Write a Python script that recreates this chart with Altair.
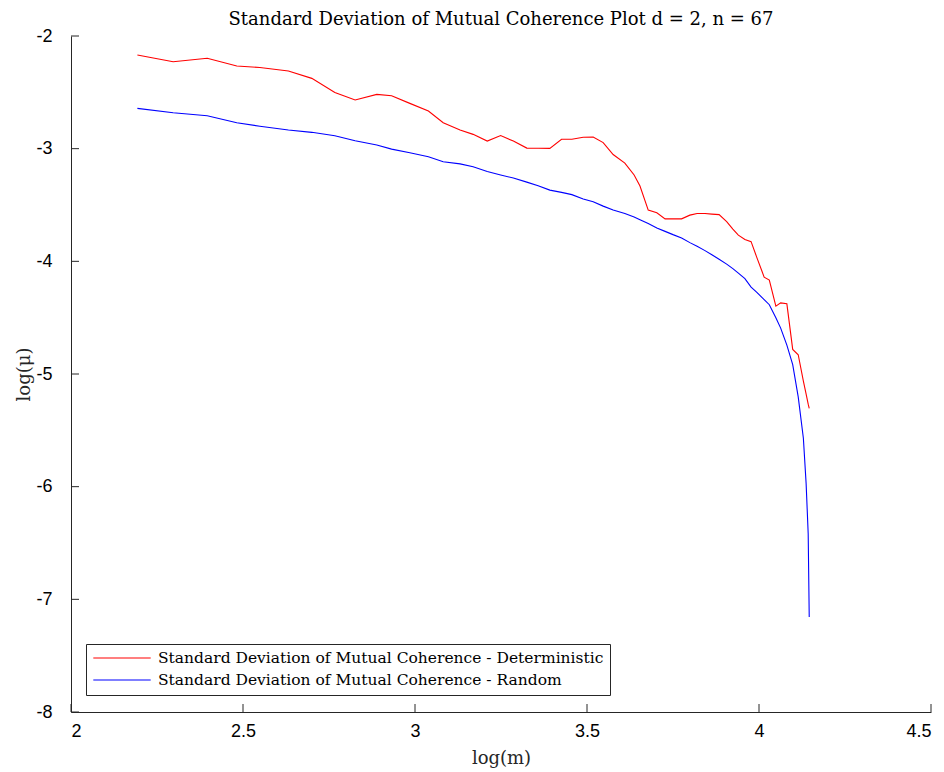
import altair as alt
import pandas as pd

log_m = [2.193, 2.297, 2.396, 2.482, 2.549, 2.632, 2.700, 2.767, 2.826, 2.889,
         2.932, 2.985, 3.039, 3.082, 3.131, 3.169, 3.210, 3.249, 3.286, 3.325,
         3.358, 3.392, 3.426, 3.456, 3.489, 3.518, 3.547, 3.576, 3.610, 3.637,
         3.654, 3.678, 3.703, 3.727, 3.750, 3.775, 3.799, 3.820, 3.843, 3.863,
         3.884, 3.906, 3.924, 3.940, 3.959, 3.977, 3.993, 4.015, 4.030, 4.049,
         4.063, 4.081, 4.098, 4.114, 4.129, 4.137, 4.143, 4.146]

deterministic = [-2.169, -2.228, -2.198, -2.266, -2.280, -2.311, -2.376, -2.502, -2.568, -2.518,
                 -2.530, -2.598, -2.666, -2.770, -2.835, -2.873, -2.933, -2.884, -2.933, -2.995,
                 -2.996, -2.997, -2.917, -2.917, -2.899, -2.897, -2.946, -3.052, -3.128, -3.234,
                 -3.332, -3.545, -3.569, -3.623, -3.623, -3.623, -3.590, -3.575, -3.576, -3.581,
                 -3.585, -3.647, -3.714, -3.767, -3.806, -3.825, -3.960, -4.140, -4.167, -4.398,
                 -4.369, -4.377, -4.782, -4.829, -5.064, -5.179, -5.268, -5.306]

random_ = [-2.642, -2.681, -2.708, -2.770, -2.801, -2.835, -2.855, -2.886, -2.930, -2.968,
           -3.004, -3.036, -3.072, -3.116, -3.135, -3.161, -3.203, -3.234, -3.261, -3.297,
           -3.330, -3.368, -3.388, -3.408, -3.446, -3.472, -3.510, -3.545, -3.576, -3.607,
           -3.630, -3.665, -3.705, -3.734, -3.763, -3.792, -3.834, -3.867, -3.905, -3.941,
           -3.981, -4.025, -4.065, -4.105, -4.154, -4.229, -4.274, -4.340, -4.385, -4.500,
           -4.593, -4.744, -4.917, -5.203, -5.570, -5.973, -6.417, -7.157]

series_names = ["Standard Deviation of Mutual Coherence - Deterministic",
                "Standard Deviation of Mutual Coherence - Random"]
series_colors = ["#ff0000", "#0000ff"]

x_ticks = [2, 2.5, 3, 3.5, 4, 4.5]
y_ticks = [-2, -3, -4, -5, -6, -7, -8]

n = len(log_m)
df = pd.DataFrame({
    "log_m": log_m + log_m,
    "log_mu": deterministic + random_,
    "series": [series_names[0]] * n + [series_names[1]] * n,
})

W, H = 860, 676
axis_color = "#262626"
serif = "DejaVu Serif"
sans = "Liberation Sans"

xscale = alt.Scale(domain=[2, 4.5], nice=False, zero=False)
yscale = alt.Scale(domain=[-8, -2], nice=False, zero=False)

lines = alt.Chart(df).mark_line(strokeWidth=1.1).encode(
    x=alt.X("log_m:Q", scale=xscale,
            axis=alt.Axis(values=x_ticks, title="log(m)", ticks=False, grid=False,
                          labelExpr="'' + datum.value", labelFont=sans, labelFontSize=18,
                          labelColor="black", labelPadding=10, domainColor=axis_color,
                          titleFont=serif, titleFontSize=18, titleFontWeight="normal",
                          titleColor=axis_color, titlePadding=9)),
    y=alt.Y("log_mu:Q", scale=yscale,
            axis=alt.Axis(values=y_ticks, title="log(μ)", ticks=False, grid=False,
                          labelExpr="'' + datum.value", labelFont=sans, labelFontSize=18,
                          labelColor="black", labelPadding=19, domainColor=axis_color,
                          titleFont=serif, titleFontSize=18, titleFontWeight="normal",
                          titleColor=axis_color, titlePadding=2)),
    color=alt.Color("series:N",
                    scale=alt.Scale(domain=series_names, range=series_colors),
                    legend=alt.Legend(title=None, orient="none", legendX=15, legendY=608,
                                      strokeColor=axis_color, fillColor="white", padding=6,
                                      symbolType="M-4.1,0H4.1", symbolSize=196,
                                      symbolStrokeWidth=1.1, symbolOffset=22,
                                      labelFont=serif, labelFontSize=15.5, labelColor="black",
                                      labelOffset=28, labelLimit=0, rowPadding=5)),
)

xt = pd.DataFrame({"t": x_ticks})
yt = pd.DataFrame({"t": y_ticks})

xticks = alt.Chart(xt).mark_rule(color=axis_color, strokeWidth=1).encode(
    x=alt.X("t:Q", scale=xscale), y=alt.value(H), y2=alt.value(H - 8))
yticks = alt.Chart(yt).mark_rule(color=axis_color, strokeWidth=1).encode(
    y=alt.Y("t:Q", scale=yscale), x=alt.value(0), x2=alt.value(8))

chart = alt.layer(lines, xticks, yticks).properties(
    width=W, height=H,
    title=alt.TitleParams("Standard Deviation of Mutual Coherence Plot d = 2, n = 67",
                          font=serif, fontSize=18, fontWeight="normal", color="black",
                          offset=-2, anchor="middle"),
    autosize=alt.AutoSizeParams(type="none"),
    padding={"left": 63, "top": 28, "right": 5, "bottom": 56},
).configure_view(stroke=None).configure_axis(domainWidth=1)

chart.save("out.html", embed_options={"renderer": "svg", "actions": False})
